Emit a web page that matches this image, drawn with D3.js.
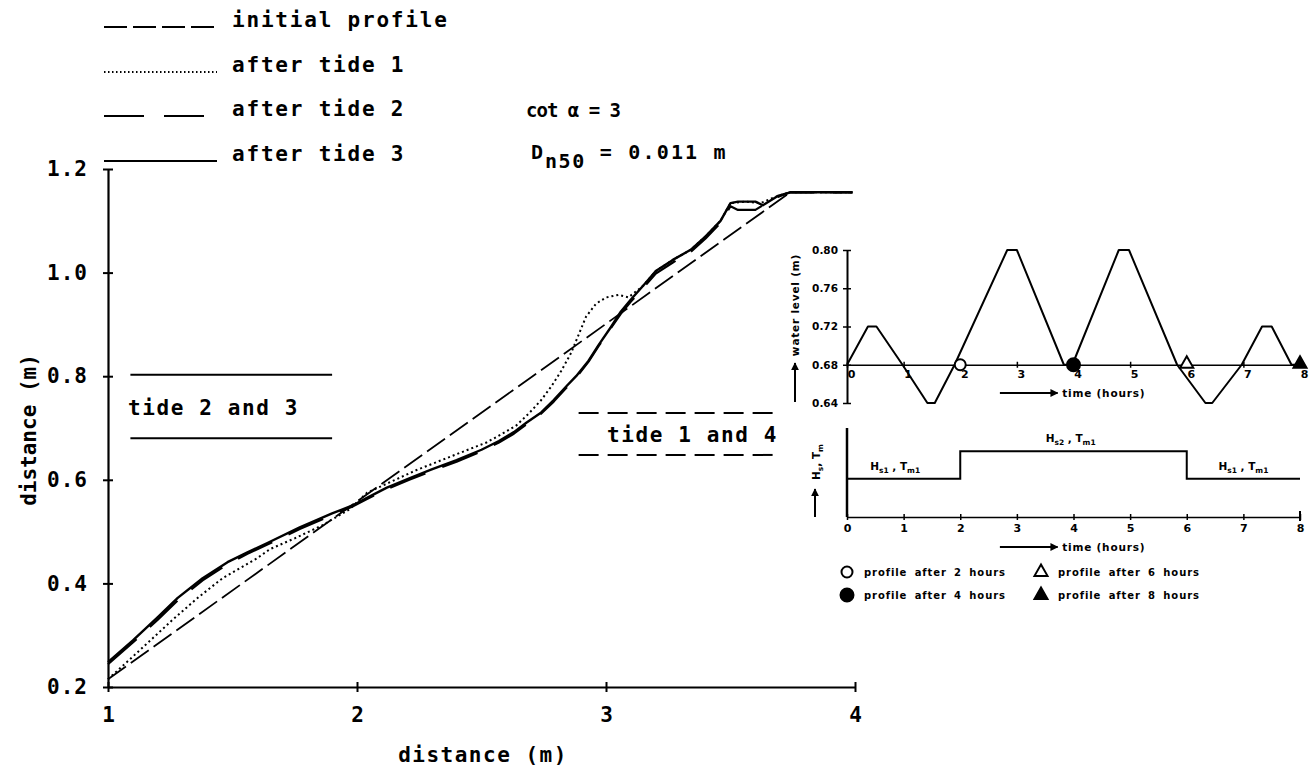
<!DOCTYPE html>
<html><head><meta charset="utf-8">
<script src="https://cdn.jsdelivr.net/npm/d3@7"></script>
<style>body{margin:0;background:#fff}svg{display:block}</style>
</head><body>
<script>
// ---------- main chart data (distance m vs distance m) ----------
const initialX = [1.0, 3.74, 3.99];
const initialY = [0.215, 1.155, 1.155];

const tide1X = [1.0, 1.08, 1.15, 1.26, 1.36, 1.46, 1.6, 1.65, 1.75, 1.86, 1.97, 2.04, 2.14, 2.24, 2.34, 2.44, 2.52, 2.58, 2.64, 2.69, 2.74, 2.78, 2.82, 2.86, 2.89, 2.92, 2.96, 3.0, 3.05, 3.09, 3.15, 3.2, 3.27, 3.34, 3.4, 3.46, 3.5, 3.56, 3.62, 3.69, 3.74, 3.99];
const tide1Y = [0.215, 0.25, 0.281, 0.33, 0.372, 0.41, 0.449, 0.466, 0.487, 0.512, 0.543, 0.575, 0.597, 0.619, 0.638, 0.657, 0.672, 0.688, 0.705, 0.728, 0.754, 0.78, 0.81, 0.845, 0.88, 0.915, 0.94, 0.952, 0.957, 0.952, 0.975, 1.003, 1.025, 1.044, 1.07, 1.1, 1.134, 1.137, 1.134, 1.148, 1.155, 1.155];

const tide2X = [1.0, 1.1, 1.2, 1.28, 1.38, 1.48, 1.56, 1.64, 1.77, 1.9, 1.98, 2.04, 2.12, 2.21, 2.3, 2.4, 2.5, 2.57, 2.63, 2.68, 2.74, 2.79, 2.84, 2.88, 2.93, 2.97, 3.02, 3.06, 3.1, 3.15, 3.2, 3.27, 3.34, 3.4, 3.46, 3.5, 3.53, 3.6, 3.63, 3.69, 3.74, 3.99];
const tide2Y = [0.244, 0.286, 0.33, 0.367, 0.406, 0.437, 0.457, 0.475, 0.505, 0.532, 0.548, 0.563, 0.582, 0.6, 0.617, 0.635, 0.655, 0.672, 0.689, 0.707, 0.728, 0.751, 0.777, 0.797, 0.828, 0.858, 0.893, 0.921, 0.944, 0.971, 0.998, 1.02, 1.04, 1.066, 1.096, 1.128, 1.121, 1.121, 1.13, 1.146, 1.155, 1.155];

const tide3X = [1.0, 1.1, 1.2, 1.28, 1.38, 1.48, 1.56, 1.64, 1.77, 1.9, 1.98, 2.04, 2.12, 2.21, 2.3, 2.4, 2.5, 2.57, 2.63, 2.68, 2.74, 2.79, 2.84, 2.88, 2.93, 2.97, 3.02, 3.06, 3.1, 3.15, 3.2, 3.27, 3.34, 3.4, 3.46, 3.5, 3.53, 3.6, 3.63, 3.69, 3.74, 3.99];
const tide3Y = [0.248, 0.29, 0.335, 0.372, 0.41, 0.441, 0.46, 0.478, 0.508, 0.535, 0.55, 0.565, 0.585, 0.603, 0.62, 0.638, 0.658, 0.675, 0.692, 0.71, 0.73, 0.754, 0.78, 0.8, 0.83, 0.86, 0.895, 0.925, 0.948, 0.975, 1.003, 1.025, 1.044, 1.07, 1.1, 1.134, 1.137, 1.137, 1.13, 1.148, 1.155, 1.155];

const xTicks = [1, 2, 3, 4];
const yTicks = [0.2, 0.4, 0.6, 0.8, 1.0, 1.2];
const legendLabels = ["initial profile", "after tide 1", "after tide 2", "after tide 3"];

// tide range bands (annotation)
const bandLabels = ["tide 2 and 3", "tide 1 and 4"];
const bandX0 = [1.09, 2.89];
const bandX1 = [1.9, 3.68];
const bandLow = [0.68, 0.648];
const bandHigh = [0.803, 0.729];

// ---------- inset: water level vs time ----------
const wlTime  = [0, 0.37, 0.52, 0.98, 1.42, 1.55, 1.9, 2.83, 3.0, 3.83, 3.98, 4.8, 4.98, 5.83, 6.33, 6.45, 6.97, 7.33, 7.5, 7.85, 8.0];
const wlLevel = [0.68, 0.72, 0.72, 0.68, 0.64, 0.64, 0.68, 0.80, 0.80, 0.68, 0.68, 0.80, 0.80, 0.68, 0.64, 0.64, 0.68, 0.72, 0.72, 0.68, 0.68];
const wlTicks = [0.64, 0.68, 0.72, 0.76, 0.80];
const hourTicks = [0, 1, 2, 3, 4, 5, 6, 7, 8];
const profileTimes = [2, 4, 6, 8];
const profileLabels = ["profile after 2 hours", "profile after 4 hours", "profile after 6 hours", "profile after 8 hours"];

// ---------- inset: wave conditions vs time ----------
const waveTime = [0, 2, 6, 8];
const waveH    = [0.43, 0.74, 0.43, 0.43];
const waveLabelT = [0.85, 3.95, 7.0];
const waveLabelMain = [["H","s1"], ["H","s2"], ["H","s1"]];

// ================= drawing =================
const W = 1315, H = 771;
const svg = d3.select("body").append("svg").attr("width", W).attr("height", H);
const FONT = "'DejaVu Sans Mono', monospace";
const SMALL = "'DejaVu Sans', sans-serif";

const x = d3.scaleLinear().domain([1, 4]).range([108, 855]);
const y = d3.scaleLinear().domain([0.2, 1.2]).range([687, 169]);

// axes
const gx = svg.append("g").attr("transform", `translate(0,${y(0.2)})`)
  .call(d3.axisBottom(x).tickValues(xTicks).tickFormat(d3.format("d")).tickSize(0).tickPadding(20));
gx.select(".domain").attr("stroke", "#000").attr("stroke-width", 2.2);
gx.selectAll(".tick line").attr("y1", -5).attr("y2", 5).attr("stroke", "#000").attr("stroke-width", 2);
gx.selectAll(".tick text").attr("font-family", FONT).attr("font-weight", "bold").attr("font-size", 21).attr("fill", "#000");

const gy = svg.append("g").attr("transform", `translate(${x(1)},0)`)
  .call(d3.axisLeft(y).tickValues(yTicks).tickFormat(d3.format(".1f")).tickSize(0).tickPadding(20));
gy.select(".domain").attr("stroke", "#000").attr("stroke-width", 2.2);
gy.selectAll(".tick line").attr("x1", -5).attr("x2", 5).attr("stroke", "#000").attr("stroke-width", 2);
gy.selectAll(".tick text").attr("font-family", FONT).attr("font-weight", "bold").attr("font-size", 21).attr("fill", "#000").attr("letter-spacing", 1);

svg.append("text").attr("x", 483).attr("y", 762).attr("text-anchor", "middle")
  .attr("font-family", FONT).attr("font-weight", "bold").attr("font-size", 21).attr("letter-spacing", 1.5)
  .text("distance (m)");
svg.append("text").attr("transform", "translate(36,430) rotate(-90)").attr("text-anchor", "middle")
  .attr("font-family", FONT).attr("font-weight", "bold").attr("font-size", 21).attr("letter-spacing", 0)
  .text("distance (m)");

// profile lines
const zip = (a, b) => a.map((v, i) => [v, b[i]]);
const line = d3.line().x(d => x(d[0])).y(d => y(d[1]));
const styles = [
  {dash: "22,6", w: 1.8},
  {dash: "2,3", w: 2},
  {dash: "38,18", w: 2.2},
  {dash: null, w: 2.4}
];
const series = [zip(initialX, initialY), zip(tide1X, tide1Y), zip(tide2X, tide2Y), zip(tide3X, tide3Y)];
series.forEach((s, i) => {
  svg.append("path").datum(s).attr("d", line).attr("fill", "none").attr("stroke", "#000")
    .attr("stroke-width", styles[i].w).attr("stroke-dasharray", styles[i].dash)
    .attr("stroke-linejoin", "round");
});

// legend
const legY = [27, 72, 116, 161];
const legDash = ["23,6", "1.5,2.5", "40,20", null];
legendLabels.forEach((lab, i) => {
  svg.append("line").attr("x1", 104).attr("x2", 217).attr("y1", legY[i]).attr("y2", legY[i])
    .attr("stroke", "#000").attr("stroke-width", i === 1 ? 1.8 : 2.2).attr("stroke-dasharray", legDash[i]);
  svg.append("text").attr("x", 232).attr("y", legY[i]).attr("font-family", FONT).attr("font-weight", "bold")
    .attr("font-size", 21).attr("letter-spacing", 1.8).text(lab);
});

// parameters
svg.append("text").attr("x", 526).attr("y", 117).attr("font-family", FONT).attr("font-weight", "bold")
  .attr("font-size", 19).attr("letter-spacing", -1).text("cot α = 3");
const dn = svg.append("text").attr("x", 531).attr("y", 159).attr("font-family", FONT).attr("font-weight", "bold").attr("font-size", 20);
dn.append("tspan").text("D");
dn.append("tspan").attr("dy", 9).attr("dx", 2).attr("font-size", 20).attr("letter-spacing", 1.5).text("n50");
dn.append("tspan").attr("dy", -9).attr("dx", 14).attr("letter-spacing", 2.2).text("= 0.011 m");

// tide bands
bandLabels.forEach((lab, i) => {
  const dash = i === 0 ? null : "20,9";
  [bandHigh[i], bandLow[i]].forEach(v => {
    svg.append("line").attr("x1", x(bandX0[i])).attr("x2", x(bandX1[i])).attr("y1", y(v)).attr("y2", y(v))
      .attr("stroke", "#000").attr("stroke-width", 2).attr("stroke-dasharray", dash);
  });
  const ty = (y(bandHigh[i]) + y(bandLow[i])) / 2 + 8;
  svg.append("text").attr("x", i === 0 ? 128 : 607).attr("y", ty).attr("font-family", FONT).attr("font-weight", "bold")
    .attr("font-size", 21).attr("letter-spacing", 1.6).text(lab);
});

// ---------- inset 1 ----------
const tx = d3.scaleLinear().domain([0, 8]).range([847, 1300]);
const wy = d3.scaleLinear().domain([0.64, 0.80]).range([403, 250]);

const gw = svg.append("g").attr("transform", `translate(${tx(0)},0)`)
  .call(d3.axisLeft(wy).tickValues(wlTicks).tickFormat(d3.format(".2f")).tickSize(0).tickPadding(9));
gw.select(".domain").attr("stroke", "#000").attr("stroke-width", 2);
gw.selectAll(".tick line").attr("x1", -4).attr("x2", 4).attr("stroke", "#000").attr("stroke-width", 1.5);
gw.selectAll(".tick text").attr("font-family", SMALL).attr("font-weight", "bold").attr("font-size", 10.5).attr("fill", "#000");

// baseline at 0.68 acting as time axis
const gt = svg.append("g").attr("transform", `translate(0,${wy(0.68)})`)
  .call(d3.axisBottom(tx).tickValues(hourTicks).tickFormat(d3.format("d")).tickSize(0).tickPadding(5));
gt.select(".domain").attr("stroke", "#000").attr("stroke-width", 1.5);
gt.selectAll(".tick line").attr("y1", -3).attr("y2", 3).attr("stroke", "#000").attr("stroke-width", 1.5);
gt.selectAll(".tick text").attr("font-family", SMALL).attr("font-weight", "bold").attr("font-size", 11).attr("fill", "#000").attr("dx", 4);

svg.append("path").datum(zip(wlTime, wlLevel))
  .attr("d", d3.line().x(d => tx(d[0])).y(d => wy(d[1])))
  .attr("fill", "none").attr("stroke", "#000").attr("stroke-width", 2).attr("stroke-linejoin", "round");

function marker(g, i, cx, cy) {
  if (i < 2) {
    g.append("circle").attr("cx", cx).attr("cy", cy).attr("r", i === 0 ? 5.5 : 6.5)
      .attr("fill", i === 0 ? "#fff" : "#000").attr("stroke", "#000").attr("stroke-width", 2);
  } else {
    const s = 6.5;
    g.append("path").attr("d", `M${cx},${cy - s}L${cx + s},${cy + s * 0.75}L${cx - s},${cy + s * 0.75}Z`)
      .attr("fill", i === 2 ? "#fff" : "#000").attr("stroke", "#000").attr("stroke-width", 2);
  }
}
profileTimes.forEach((t, i) => marker(svg, i, tx(t), wy(0.68) - (i >= 2 ? 2 : 0)));

svg.append("text").attr("transform", `translate(799,305) rotate(-90)`).attr("text-anchor", "middle")
  .attr("font-family", SMALL).attr("font-weight", "bold").attr("font-size", 10.5).attr("letter-spacing", 0.8)
  .text("water level (m)");

const defs = svg.append("defs");
defs.append("marker").attr("id", "ah").attr("viewBox", "0 0 10 10").attr("refX", 9).attr("refY", 5)
  .attr("markerWidth", 4).attr("markerHeight", 4).attr("orient", "auto")
  .append("path").attr("d", "M0,0L10,5L0,10Z").attr("fill", "#000");
function arrow(x1, y1, x2, y2) {
  svg.append("line").attr("x1", x1).attr("y1", y1).attr("x2", x2).attr("y2", y2)
    .attr("stroke", "#000").attr("stroke-width", 2).attr("marker-end", "url(#ah)");
}
arrow(795, 402, 795, 363);
arrow(tx(2.7), 393, tx(3.72), 393);
svg.append("text").attr("x", tx(3.8)).attr("y", 397).attr("font-family", SMALL).attr("font-weight", "bold")
  .attr("font-size", 10.5).attr("letter-spacing", 0.8).text("time (hours)");

// ---------- inset 2 ----------
const hy = d3.scaleLinear().domain([0, 1]).range([517, 428]);
svg.append("line").attr("x1", tx(0)).attr("x2", tx(0)).attr("y1", hy(0)).attr("y2", hy(1))
  .attr("stroke", "#000").attr("stroke-width", 2.5);
const gt2 = svg.append("g").attr("transform", `translate(0,${hy(0)})`)
  .call(d3.axisBottom(tx).tickValues(hourTicks).tickFormat(d3.format("d")).tickSize(0).tickPadding(7));
gt2.select(".domain").attr("stroke", "#000").attr("stroke-width", 1.5);
gt2.selectAll(".tick line").attr("y1", -3).attr("y2", 3).attr("stroke", "#000").attr("stroke-width", 1.5);
gt2.selectAll(".tick text").attr("font-family", SMALL).attr("font-weight", "bold").attr("font-size", 11).attr("fill", "#000");
svg.append("line").attr("x1", tx(8)).attr("x2", tx(8)).attr("y1", hy(0) - 6).attr("y2", hy(0) + 4)
  .attr("stroke", "#000").attr("stroke-width", 2);

svg.append("path").datum(zip(waveTime, waveH))
  .attr("d", d3.line().curve(d3.curveStepAfter).x(d => tx(d[0])).y(d => hy(d[1])))
  .attr("fill", "none").attr("stroke", "#000").attr("stroke-width", 2);

waveLabelT.forEach((t, i) => {
  const lvl = i === 1 ? waveH[1] : waveH[0];
  const tt = svg.append("text").attr("x", tx(t)).attr("y", hy(lvl) - 9).attr("text-anchor", "middle")
    .attr("font-family", SMALL).attr("font-weight", "bold").attr("font-size", 10.5);
  tt.append("tspan").text(waveLabelMain[i][0]);
  tt.append("tspan").attr("dy", 3).attr("font-size", 7.5).text(waveLabelMain[i][1]);
  tt.append("tspan").attr("dy", -3).text(" , T");
  tt.append("tspan").attr("dy", 3).attr("font-size", 7.5).text("m1");
});

const hl = svg.append("text").attr("transform", `translate(820,462) rotate(-90)`).attr("text-anchor", "middle")
  .attr("font-family", SMALL).attr("font-weight", "bold").attr("font-size", 10.5);
hl.append("tspan").text("H");
hl.append("tspan").attr("dy", 3).attr("font-size", 7.5).text("s");
hl.append("tspan").attr("dy", -3).text(", T");
hl.append("tspan").attr("dy", 3).attr("font-size", 7.5).text("m");
arrow(815, 517, 815, 489);

arrow(tx(2.7), 547, tx(3.72), 547);
svg.append("text").attr("x", tx(3.8)).attr("y", 551).attr("font-family", SMALL).attr("font-weight", "bold")
  .attr("font-size", 10.5).attr("letter-spacing", 0.8).text("time (hours)");

// inset legend
const lgX = [847, 847, 1041, 1041];
const lgY = [572, 595, 572, 595];
profileLabels.forEach((lab, i) => {
  marker(svg, i, lgX[i], lgY[i] - (i >= 2 ? 1 : 0));
  svg.append("text").attr("x", lgX[i] + 17).attr("y", lgY[i] + 4).attr("font-family", SMALL).attr("font-weight", "bold")
    .attr("font-size", 10).attr("letter-spacing", 0.9).attr("word-spacing", 3).text(lab);
});
</script>
</body></html>
